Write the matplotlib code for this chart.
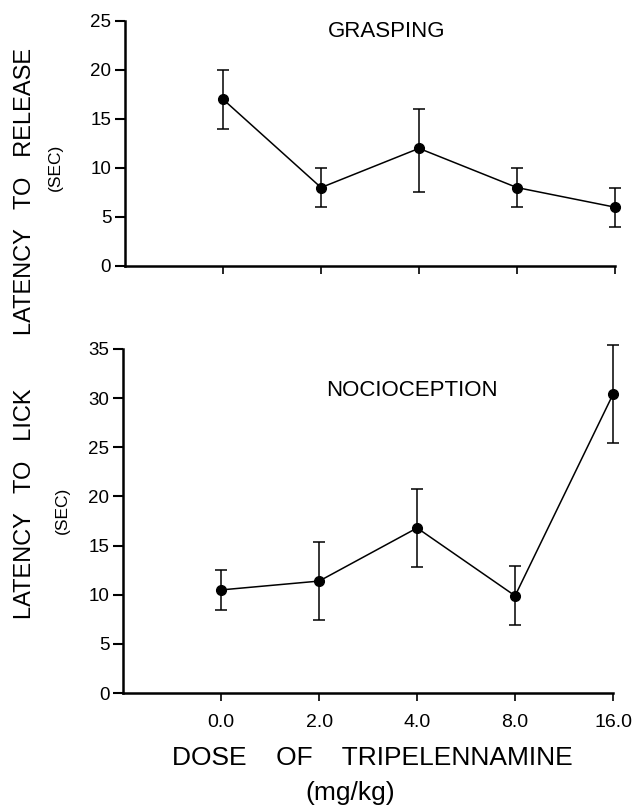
import matplotlib
matplotlib.use('Agg')
import matplotlib.pyplot as plt

plt.rcParams['font.family'] = ['Liberation Sans', 'DejaVu Sans']

# dose levels (mg/kg)
doses = ['0.0', '2.0', '4.0', '8.0', '16.0']

# grasping: latency to release (sec)
grasp_mean = [17, 8, 12, 8, 6]
grasp_err_lo = [3, 2, 4.5, 2, 2]
grasp_err_hi = [3, 2, 4, 2, 2]

# nociception: latency to lick (sec)
noci_mean = [10.5, 11.4, 16.8, 9.9, 30.4]
noci_err_lo = [2, 4, 4, 3, 5]
noci_err_hi = [2, 4, 4, 3, 5]

grasp_ticks = [0, 5, 10, 15, 20, 25]
noci_ticks = [0, 5, 10, 15, 20, 25, 30, 35]

fig = plt.figure(figsize=(6.32, 8.06), dpi=100)
ax1 = fig.add_axes([0.198, 0.670, 0.775, 0.304])
ax2 = fig.add_axes([0.195, 0.140, 0.775, 0.427])

x = list(range(len(doses)))


def style_axis(ax, yticks):
    for s in ['top', 'right']:
        ax.spines[s].set_visible(False)
    ax.spines['left'].set_linewidth(1.8)
    ax.spines['bottom'].set_linewidth(1.8)
    ax.set_xlim(-1, 4)
    ax.set_ylim(0, yticks[-1])
    ax.set_yticks(yticks)
    ax.set_xticks(x)
    ax.tick_params(axis='y', direction='out', length=7, width=1.5,
                   labelsize=13.5, pad=3)
    ax.tick_params(axis='x', direction='out', length=6, width=1.2,
                   labelsize=14, pad=9)


for ax, m, lo, hi, ticks in [(ax1, grasp_mean, grasp_err_lo, grasp_err_hi, grasp_ticks),
                             (ax2, noci_mean, noci_err_lo, noci_err_hi, noci_ticks)]:
    ax.errorbar(x, m, yerr=[lo, hi], fmt='-o', color='black', lw=1.1,
                ms=7, elinewidth=1.1, capsize=4, capthick=1.1, clip_on=False)
    style_axis(ax, ticks)

ax1.set_xticklabels([])
ax2.set_xticklabels(doses)

ax1.text(0.413, 0.955, 'GRASPING', transform=ax1.transAxes, fontsize=16,
         ha='left', va='center')
ax2.text(0.415, 0.88, 'NOCIOCEPTION', transform=ax2.transAxes, fontsize=16,
         ha='left', va='center')

fig.text(0.040, 1 - 191 / 806, 'LATENCY   TO   RELEASE', rotation=90,
         fontsize=17, ha='center', va='center')
fig.text(0.087, 1 - 167 / 806, '(SEC)', rotation=90, fontsize=12.5,
         ha='center', va='center')
fig.text(0.040, 1 - 504 / 806, 'LATENCY   TO   LICK', rotation=90,
         fontsize=17, ha='center', va='center')
fig.text(0.098, 1 - 510 / 806, '(SEC)', rotation=90, fontsize=12.5,
         ha='center', va='center')

fig.text(372 / 632, 1 - 758 / 806, 'DOSE    OF    TRIPELENNAMINE',
         fontsize=19, ha='center', va='center')
fig.text(350 / 632, 1 - 793 / 806, '(mg/kg)', fontsize=19,
         ha='center', va='center')

fig.savefig('out.png', dpi=100)
